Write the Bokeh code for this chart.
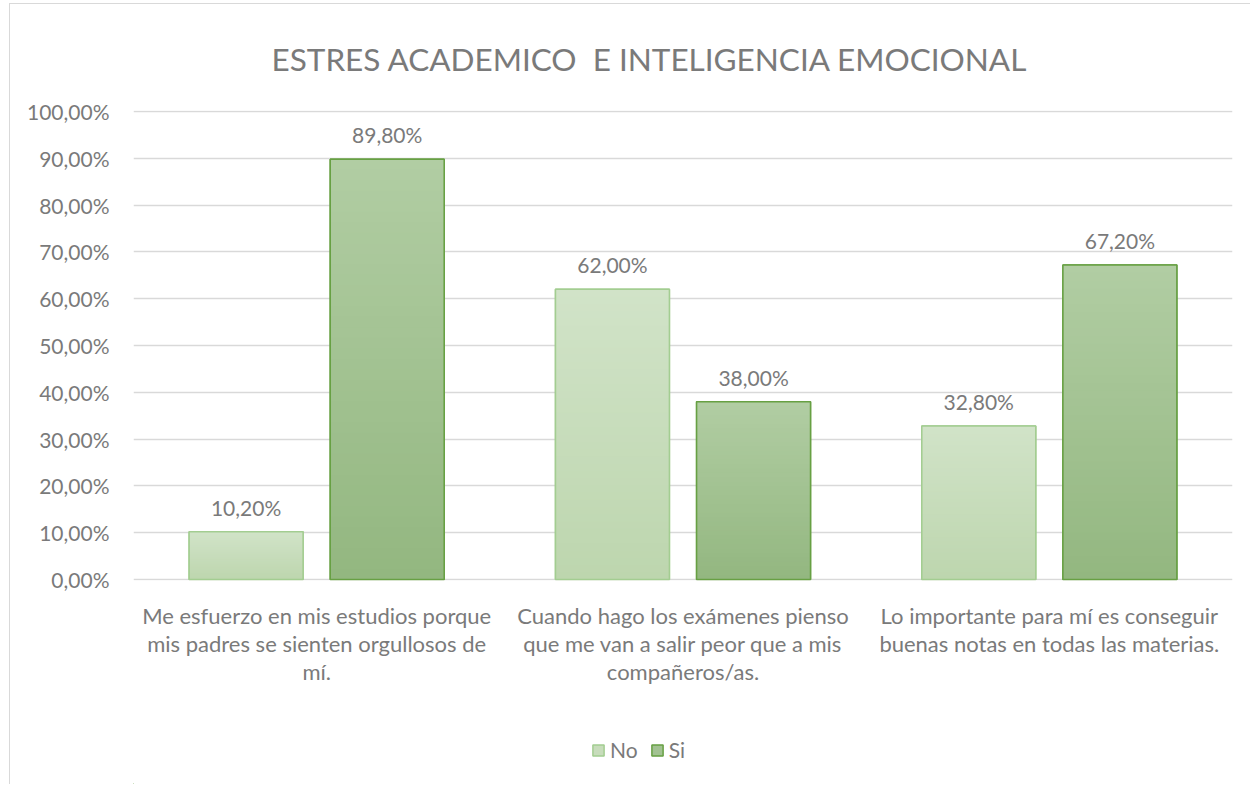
import numpy as np
from bokeh.plotting import figure
from bokeh.layouts import column
from bokeh.models import (Range1d, FixedTicker, ColumnDataSource, LabelSet,
                          Legend, LegendItem)
from bokeh.core.properties import value
from bokeh.embed import file_html
from bokeh.resources import INLINE

# ---------------- data ----------------
categories = [
    "Me esfuerzo en mis estudios porque\nmis padres se sienten orgullosos de\nmí.",
    "Cuando hago los exámenes pienso\nque me van a salir peor que a mis\ncompañeros/as.",
    "Lo importante para mí es conseguir\nbuenas notas en todas las materias.",
]
series_names = ["No", "Si"]
no_values = [10.2, 62.0, 32.8]
si_values = [89.8, 38.0, 67.2]
y_ticks = [0, 10, 20, 30, 40, 50, 60, 70, 80, 90, 100]
y_tick_labels = ["0,00%", "10,00%", "20,00%", "30,00%", "40,00%", "50,00%",
                 "60,00%", "70,00%", "80,00%", "90,00%", "100,00%"]
title_text = "ESTRES ACADEMICO  E INTELIGENCIA EMOCIONAL"

# ---------------- style ----------------
FONT = "Lato"
TEXT = "#7a7a7a"
GRID = "#d9d9d9"
NO_TOP, NO_BOTTOM, NO_LINE = "#d1e3c8", "#bdd6ae", "#a3cd91"
SI_TOP, SI_BOTTOM, SI_LINE = "#b1cda3", "#93b780", "#67a043"
BAR_W = 0.311
OFFSET = 0.1926

x_centers = [i + 0.5 for i in range(len(categories))]
x_no = [c - OFFSET for c in x_centers]
x_si = [c + OFFSET for c in x_centers]


def hex2rgb(h):
    h = h.lstrip("#")
    return np.array([int(h[i:i + 2], 16) for i in (0, 2, 4)], dtype=float)


def gradient_source(xs, vals, c_bottom, c_top, n=40):
    b, t = hex2rgb(c_bottom), hex2rgb(c_top)
    data = dict(x=[], bottom=[], top=[], color=[])
    for x, v in zip(xs, vals):
        for k in range(n):
            f = (k + 0.5) / n
            c = b + (t - b) * f
            data["x"].append(x)
            data["bottom"].append(v * k / n)
            data["top"].append(min(v, v * (k + 1) / n + 0.25))
            data["color"].append("#%02x%02x%02x" % tuple(int(round(q)) for q in c))
    return ColumnDataSource(data)


def mid(c1, c2):
    m = (hex2rgb(c1) + hex2rgb(c2)) / 2
    return "#%02x%02x%02x" % tuple(int(round(q)) for q in m)


p = figure(width=1240, height=696, x_range=Range1d(0, 3), y_range=Range1d(-0.2, 100.2),
           output_backend="svg", toolbar_location=None,
           min_border_left=123, min_border_right=18, min_border_top=106, min_border_bottom=120)
p.outline_line_color = None
p.background_fill_color = "white"
p.border_fill_color = "white"

# title
p.title.text = title_text.replace("  ", " \u00a0")
p.title.text_font = FONT
p.title.text_font_size = "31.5px"
p.title.text_font_style = "normal"
p.title.text_color = TEXT
p.title.align = "left"
p.title.offset = 138
p.title.standoff = 66

# base bars
r_no = p.vbar(x=x_no, width=BAR_W, top=no_values, bottom=0,
              fill_color=mid(NO_TOP, NO_BOTTOM), line_color=NO_LINE, line_width=1.5)
r_si = p.vbar(x=x_si, width=BAR_W, top=si_values, bottom=0,
              fill_color=mid(SI_TOP, SI_BOTTOM), line_color=SI_LINE, line_width=1.5)

# gradient fill
p.vbar(x="x", width=BAR_W, top="top", bottom="bottom", fill_color="color",
       line_color=None, source=gradient_source(x_no, no_values, NO_BOTTOM, NO_TOP))
p.vbar(x="x", width=BAR_W, top="top", bottom="bottom", fill_color="color",
       line_color=None, source=gradient_source(x_si, si_values, SI_BOTTOM, SI_TOP))

# outlines
p.vbar(x=x_no, width=BAR_W, top=no_values, bottom=0, fill_alpha=0,
       line_color=NO_LINE, line_width=1.5)
p.vbar(x=x_si, width=BAR_W, top=si_values, bottom=0, fill_alpha=0,
       line_color=SI_LINE, line_width=1.5)

# data labels
def fmt(v):
    return ("%.2f%%" % v).replace(".", ",")

lab_src = ColumnDataSource(dict(
    x=x_no + x_si,
    y=no_values + si_values,
    t=[fmt(v) for v in no_values + si_values],
))
p.add_layout(LabelSet(x="x", y="y", text="t", source=lab_src, y_offset=16,
                      text_align="center", text_baseline="alphabetic",
                      text_font=value(FONT), text_font_size=value("21px"),
                      text_color=TEXT))

# axes
p.xaxis.ticker = FixedTicker(ticks=x_centers)
p.xaxis.major_label_overrides = {c: lab for c, lab in zip(x_centers, categories)}
p.yaxis.ticker = FixedTicker(ticks=y_ticks)
p.yaxis.major_label_overrides = {t: lab for t, lab in zip(y_ticks, y_tick_labels)}
for ax in (p.xaxis[0], p.yaxis[0]):
    ax.axis_line_color = None
    ax.major_tick_line_color = None
    ax.minor_tick_line_color = None
    ax.major_tick_out = 0
    ax.major_tick_in = 0
    ax.major_label_text_font = FONT
    ax.major_label_text_color = TEXT
p.yaxis.major_label_text_font_size = "21px"
p.xaxis.major_label_text_font_size = "22px"
p.xaxis.major_label_standoff = 21
p.xaxis.major_label_text_line_height = 1.04
p.yaxis.major_label_standoff = 24

p.xgrid.grid_line_color = None
p.ygrid.ticker = FixedTicker(ticks=y_ticks)
p.ygrid.grid_line_color = GRID
p.ygrid.grid_line_width = 1.5

# legend in its own strip below the chart (proxy bars lie outside its view)
pl = figure(width=1240, height=84, x_range=Range1d(10, 13), y_range=Range1d(200, 300),
            output_backend="svg", toolbar_location=None,
            min_border_left=0, min_border_right=0, min_border_top=0, min_border_bottom=0)
pl.axis.visible = False
pl.grid.visible = False
pl.outline_line_color = None
pl.border_fill_color = "white"
pl.background_fill_color = "white"
l_no = pl.vbar(x=x_no, top=no_values, bottom=0, width=BAR_W,
               fill_color=mid(NO_TOP, NO_BOTTOM), line_color=NO_LINE, line_width=1.5)
l_si = pl.vbar(x=x_si, top=si_values, bottom=0, width=BAR_W,
               fill_color=mid(SI_TOP, SI_BOTTOM), line_color=SI_LINE, line_width=1.5)
legend = Legend(items=[LegendItem(label=series_names[0], renderers=[l_no]),
                       LegendItem(label=series_names[1], renderers=[l_si])],
                orientation="horizontal", location=(458, 22),
                glyph_width=14, glyph_height=14, label_standoff=5, spacing=12,
                label_text_font=FONT, label_text_font_size="21px",
                label_text_color=TEXT, border_line_color=None,
                background_fill_alpha=0, padding=0, margin=0)
pl.add_layout(legend, "center")

layout = column(p, pl, spacing=0, margin=(3, 0, 0, 9),
                styles={"border-left": "1px solid #d9d9d9",
                        "border-top": "1px solid #d9d9d9"})

open("out.html", "w").write(file_html(layout, INLINE))
